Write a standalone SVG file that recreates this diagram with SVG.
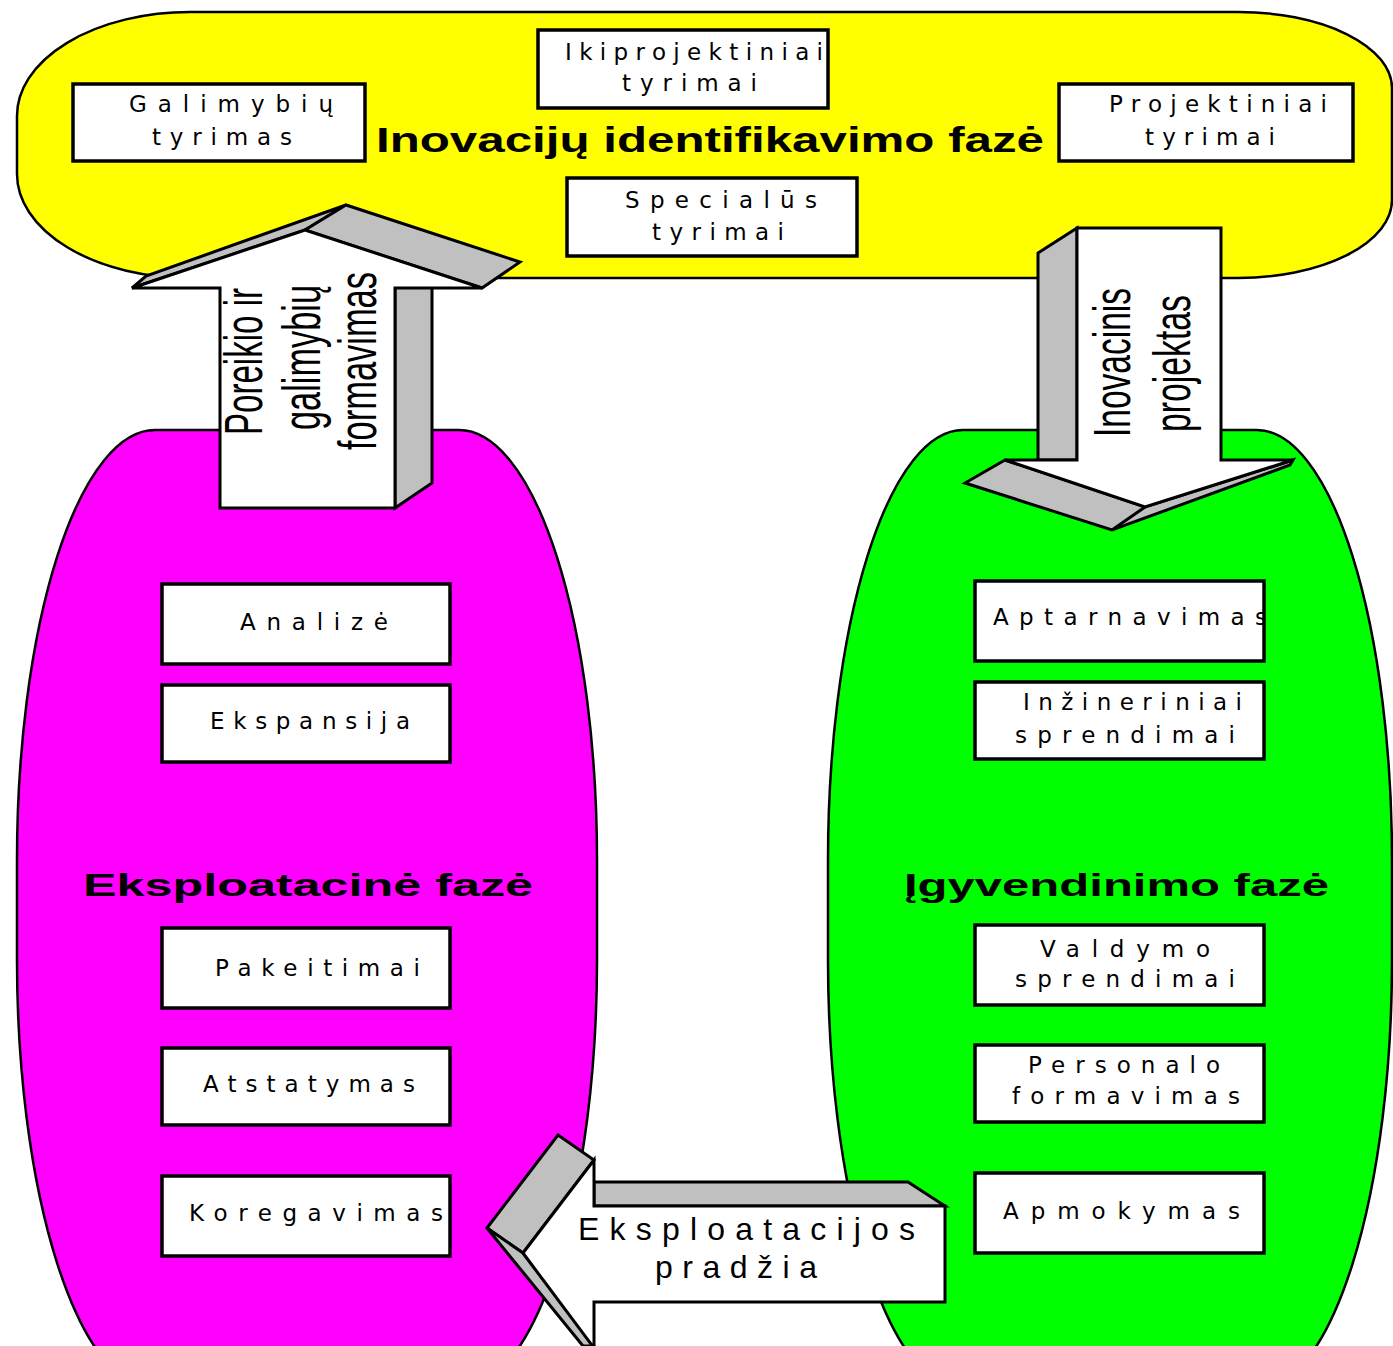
<svg xmlns="http://www.w3.org/2000/svg" width="1393" height="1346" viewBox="0 0 1393 1346">
<style>
.bg{stroke:#000;stroke-width:2.5}
.box{fill:#fff;stroke:#000;stroke-width:3.5}
.bt{font-family:"DejaVu Sans","Liberation Sans",Arial,sans-serif;font-size:23px;fill:#000}
.title{font-family:"Liberation Sans",Arial,sans-serif;font-weight:bold;fill:#000}
.gray{fill:#c0c0c0;stroke:#000;stroke-width:3;stroke-linejoin:miter}
.front{fill:#fff;stroke:#000;stroke-width:3;stroke-linejoin:miter}
.at{font-family:"Liberation Sans",Arial,sans-serif;fill:#000}
</style>
<rect width="1393" height="1346" fill="#fff"/>

<g id="phase-identification">
<path class="bg" fill="#ffff00" d="M190,12 H1238 A154,76 0 0 1 1392,88 V200 A154,78 0 0 1 1238,278 H190 A173,104 0 0 1 17,174 V117 A173,104 0 0 1 190,12 Z"/>
<text class="title" x="376" y="152" font-size="35" textLength="668" lengthAdjust="spacingAndGlyphs">Inovacijų identifikavimo fazė</text>
</g>
<g id="phase-exploitation">
<rect class="bg" fill="#ff00ff" x="17" y="430" width="580" height="960" rx="138" ry="430"/>
<text class="title" x="83" y="896" font-size="32" textLength="450" lengthAdjust="spacingAndGlyphs">Eksploatacinė fazė</text>
</g>
<g id="phase-implementation">
<rect class="bg" fill="#00ff00" x="828" y="430" width="564" height="960" rx="135" ry="430"/>
<text class="title" x="904" y="896" font-size="32" textLength="425" lengthAdjust="spacingAndGlyphs">Įgyvendinimo fazė</text>
</g>

<g id="box-galimybiu">
<rect class="box" x="73" y="84" width="292" height="77"/>
<text class="bt" x="129" y="112" textLength="204" lengthAdjust="spacing">Galimybių</text>
<text class="bt" x="152" y="145" textLength="140" lengthAdjust="spacing">tyrimas</text>
</g>
<g id="box-ikiprojektiniai">
<rect class="box" x="538" y="30" width="290" height="78"/>
<text class="bt" x="565" y="60" textLength="258" lengthAdjust="spacing">Ikiprojektiniai</text>
<text class="bt" x="622" y="91" textLength="135" lengthAdjust="spacing">tyrimai</text>
</g>
<g id="box-specialus">
<rect class="box" x="567" y="178" width="290" height="78"/>
<text class="bt" x="625" y="208" textLength="192" lengthAdjust="spacing">Specialūs</text>
<text class="bt" x="652" y="240" textLength="132" lengthAdjust="spacing">tyrimai</text>
</g>
<g id="box-projektiniai">
<rect class="box" x="1059" y="84" width="294" height="77"/>
<text class="bt" x="1109" y="112" textLength="218" lengthAdjust="spacing">Projektiniai</text>
<text class="bt" x="1145" y="145" textLength="130" lengthAdjust="spacing">tyrimai</text>
</g>

<g id="box-analize">
<rect class="box" x="162" y="584" width="288" height="80"/>
<text class="bt" x="240" y="630" textLength="148" lengthAdjust="spacing">Analizė</text>
</g>
<g id="box-ekspansija">
<rect class="box" x="162" y="685" width="288" height="77"/>
<text class="bt" x="210" y="729" textLength="200" lengthAdjust="spacing">Ekspansija</text>
</g>
<g id="box-pakeitimai">
<rect class="box" x="162" y="928" width="288" height="80"/>
<text class="bt" x="215" y="976" textLength="205" lengthAdjust="spacing">Pakeitimai</text>
</g>
<g id="box-atstatymas">
<rect class="box" x="162" y="1048" width="288" height="77"/>
<text class="bt" x="203" y="1092" textLength="212" lengthAdjust="spacing">Atstatymas</text>
</g>
<g id="box-koregavimas">
<rect class="box" x="162" y="1176" width="288" height="80"/>
<text class="bt" x="189" y="1221" textLength="254" lengthAdjust="spacing">Koregavimas</text>
</g>

<g id="box-aptarnavimas">
<rect x="975" y="581" width="289" height="80" fill="#fff"/>
<text class="bt" x="993" y="625" textLength="274" lengthAdjust="spacing">Aptarnavimas</text>
<rect x="1264" y="590" width="10" height="60" fill="#00ff00"/>
<rect x="975" y="581" width="289" height="80" fill="none" stroke="#000" stroke-width="3.5"/>
</g>
<g id="box-inzineriniai">
<rect class="box" x="975" y="682" width="289" height="77"/>
<text class="bt" x="1023" y="710" textLength="219" lengthAdjust="spacing">Inžineriniai</text>
<text class="bt" x="1015" y="743" textLength="220" lengthAdjust="spacing">sprendimai</text>
</g>
<g id="box-valdymo">
<rect class="box" x="975" y="925" width="289" height="80"/>
<text class="bt" x="1040" y="957" textLength="170" lengthAdjust="spacing">Valdymo</text>
<text class="bt" x="1015" y="987" textLength="220" lengthAdjust="spacing">sprendimai</text>
</g>
<g id="box-personalo">
<rect class="box" x="975" y="1045" width="289" height="77"/>
<text class="bt" x="1028" y="1073" textLength="192" lengthAdjust="spacing">Personalo</text>
<text class="bt" x="1012" y="1104" textLength="228" lengthAdjust="spacing">formavimas</text>
</g>
<g id="box-apmokymas">
<rect class="box" x="975" y="1173" width="289" height="80"/>
<text class="bt" x="1003" y="1219" textLength="237" lengthAdjust="spacing">Apmokymas</text>
</g>

<g id="connectors">
<g id="arrow-up">
<polygon class="gray" points="395,508 432,483 432,263 395,288"/>
<polygon class="gray" points="132,288 305,230 346,205 146,276"/>
<polygon class="gray" points="305,230 482,288 520,262 346,205"/>
<polygon class="front" points="220,508 395,508 395,288 482,288 305,230 132,288 220,288"/>
<text class="at" font-size="54" transform="translate(262,435) rotate(-90)" textLength="147" lengthAdjust="spacingAndGlyphs">Poreikio ir</text>
<text class="at" font-size="54" transform="translate(320,430) rotate(-90)" textLength="145" lengthAdjust="spacingAndGlyphs">galimybių</text>
<text class="at" font-size="54" transform="translate(376,450) rotate(-90)" textLength="178" lengthAdjust="spacingAndGlyphs">formavimas</text>
</g>
<g id="arrow-down">
<polygon class="gray" points="1038,253 1077,228 1077,460 1038,460"/>
<polygon class="gray" points="1005,460 965,483 1112,530 1290,465 1293,460 1145,507"/>
<line x1="1145" y1="507" x2="1112" y2="530" stroke="#000" stroke-width="3"/>
<polygon class="front" points="1077,228 1221,228 1221,460 1293,460 1145,507 1005,460 1077,460"/>
<text class="at" font-size="52" transform="translate(1130,437) rotate(-90)" textLength="149" lengthAdjust="spacingAndGlyphs">Inovacinis</text>
<text class="at" font-size="52" transform="translate(1190,432) rotate(-90)" textLength="137" lengthAdjust="spacingAndGlyphs">projektas</text>
</g>
<g id="arrow-left">
<polygon class="gray" points="594,1182 908,1182 945,1206 594,1206"/>
<polygon class="gray" points="558,1135 594,1160 523,1253 487,1228"/>
<polygon class="gray" points="487,1228 523,1253 594,1346 583,1346"/>
<polygon class="front" points="594,1160 594,1206 945,1206 945,1302 594,1302 594,1348 523,1253"/>
<text class="at" font-size="32" x="578" y="1240" textLength="337" lengthAdjust="spacing">Eksploatacijos</text>
<text class="at" font-size="32" x="655" y="1278" textLength="162" lengthAdjust="spacing">pradžia</text>
</g>
</g>
</svg>
